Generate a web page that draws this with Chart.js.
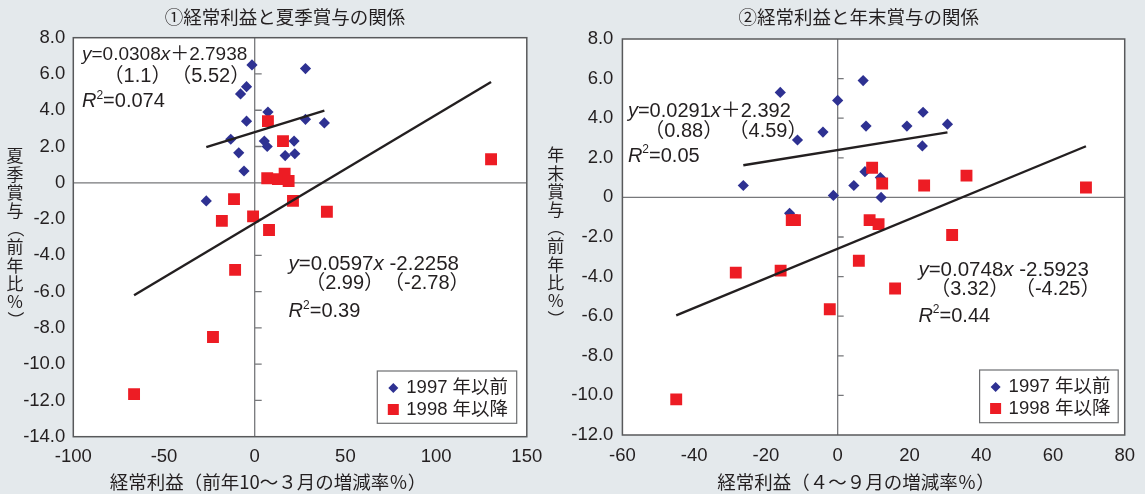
<!DOCTYPE html>
<html lang="ja">
<head>
<meta charset="utf-8">
<title>経常利益と賞与の関係</title>
<script src="https://cdn.jsdelivr.net/npm/chart.js@4.4.1/dist/chart.umd.min.js"></script>
<style>
  html, body { margin: 0; padding: 0; background: #e4e9ec; }
  #wrap { position: relative; width: 1145px; height: 494px; overflow: hidden; background: #e4e9ec; }
  canvas { position: absolute; top: 0; }
  #summer { left: 0; }
  #winter { left: 540px; }
</style>
</head>
<body>
<div id="wrap">
  <canvas id="summer" width="570" height="494"></canvas>
  <canvas id="winter" width="605" height="494"></canvas>
</div>
<script>
// ---- ① 経常利益（前年10～3月）と夏季賞与 ----
const summerPre97X  = [-1.5, 28.0, -4.5, -7.8, 7.3, -4.5, 28.0, 38.4, -13.2, 5.3, 6.9, 21.7, -8.8, 16.8, 22.1, -5.9, -26.7];
const summerPre97Y  = [6.5, 6.3, 5.3, 4.9, 3.9, 3.4, 3.5, 3.3, 2.4, 2.3, 2.0, 2.3, 1.65, 1.5, 1.6, 0.65, -1.0];
const summerPost98X = [7.3, 15.6, 6.9, 12.8, 16.5, 18.7, 21.1, -11.4, 39.8, -18.1, -0.9, 7.9, 130.3, -10.8, -23.0, -66.5];
const summerPost98Y = [3.4, 2.3, 0.25, 0.2, 0.5, 0.1, -1.0, -0.9, -1.6, -2.1, -1.85, -2.6, 1.3, -4.8, -8.5, -11.65];
const summerPre97Fit  = [0.0308, 2.7938];   // slope, intercept
const summerPost98Fit = [0.0597, -2.2258];
const summerPre97T  = [1.1, 5.52];          // t-values
const summerPost98T = [2.99, -2.78];
const summerR2 = [0.074, 0.39];
const summerXTicks = [-100, 150, 50];       // min, max, step
const summerYTicks = [-14, 8, 2];

// ---- ② 経常利益（4～9月）と年末賞与 ----
const winterPre97X  = [7.1, -16.0, 0.0, 23.8, 30.6, 7.9, 19.3, -4.1, -11.2, 23.6, 7.6, 11.9, 4.5, -26.3, -1.2, 12.1, -13.4];
const winterPre97Y  = [5.9, 5.3, 4.9, 4.3, 3.7, 3.6, 3.6, 3.3, 2.9, 2.6, 1.3, 1.0, 0.6, 0.6, 0.1, 0.0, -0.8];
const winterPost98X = [9.6, 12.4, 24.1, 35.9, 69.2, -12.8, -11.9, 8.9, 11.4, 31.9, 5.9, -28.4, -15.9, -2.2, 16.0, -45.0];
const winterPost98Y = [1.5, 0.7, 0.6, 1.1, 0.5, -1.15, -1.15, -1.15, -1.35, -1.9, -3.2, -3.8, -3.7, -5.65, -4.6, -10.2];
const winterPre97Fit  = [0.0291, 2.392];
const winterPost98Fit = [0.0748, -2.5923];
const winterPre97T  = [0.88, 4.59];
const winterPost98T = [3.32, -4.25];
const winterR2 = [0.05, 0.44];
const winterXTicks = [-60, 80, 20];
const winterYTicks = [-12, 8, 2];

const seriesNames = ['1997 年以前', '1998 年以降'];

const BLUE = '#2e3192', RED = '#ed1c24', INK = '#231f20';
const AXIS = '#77787b', FRAME = '#58595b';
const LAT = '"Liberation Sans", Arial, "Noto Sans CJK JP", sans-serif';
const CJK = '"Noto Sans CJK JP", "Noto Sans CJK SC", sans-serif';

const points = (xs, ys) => xs.map((x, i) => ({ x, y: ys[i] }));
function fitLine(xs, fit) {
  const lo = Math.min(...xs), hi = Math.max(...xs);
  return [{ x: lo, y: fit[0] * lo + fit[1] }, { x: hi, y: fit[0] * hi + fit[1] }];
}

// Draws a run of text pieces: [text, style] where style is '', 'i' (italic) or 'sup'.
function rich(ctx, x, y, parts, size, align) {
  const fontOf = s => s === 'i' ? `italic ${size}px ${LAT}` : s === 'sup' ? `${Math.round(size * 0.6)}px ${LAT}` : `${size}px ${LAT}`;
  let total = 0;
  parts.forEach(([t, s]) => { ctx.font = fontOf(s); total += ctx.measureText(t).width; });
  let cx = align === 'center' ? x - total / 2 : x;
  ctx.textAlign = 'left';
  ctx.textBaseline = 'middle';
  parts.forEach(([t, s]) => {
    ctx.font = fontOf(s);
    ctx.fillText(t, cx, s === 'sup' ? y - size * 0.3 : y);
    cx += ctx.measureText(t).width;
  });
}

function equationBlock(ctx, b, fit, t, r2) {
  const sign = fit[1] >= 0 ? '＋' : ' ';
  const fs = b.size || 20;
  rich(ctx, b.left, b.y1, [['y', 'i'], ['=' + fit[0], ''], ['x', 'i'], [sign + fit[1], '']], fs, 'left');
  rich(ctx, b.c1, b.y2, [['（' + t[0] + '）', '']], 20, 'center');
  rich(ctx, b.c2, b.y2, [['（' + t[1] + '）', '']], 20, 'center');
  rich(ctx, b.left, b.y3, [['R', 'i'], ['2', 'sup'], ['=' + r2, '']], 20, 'left');
}

function decorations(o) {
  return {
    id: 'decorations',
    beforeDraw(chart) {
      const { ctx, chartArea: a } = chart;
      ctx.save();
      ctx.fillStyle = '#ffffff';
      ctx.fillRect(a.left, a.top, a.right - a.left, a.bottom - a.top);
      ctx.restore();
    },
    beforeDatasetsDraw(chart) {
      const { ctx, chartArea: a, scales: { x, y } } = chart;
      const x0 = x.getPixelForValue(0), y0 = y.getPixelForValue(0);
      ctx.save();
      ctx.strokeStyle = AXIS;
      ctx.lineWidth = 1.3;
      ctx.beginPath();
      ctx.moveTo(x0, a.top); ctx.lineTo(x0, a.bottom);
      ctx.moveTo(a.left, y0); ctx.lineTo(a.right, y0);
      y.ticks.forEach(tk => {
        if (tk.value === y.min || tk.value === y.max || tk.value === 0) return;
        const py = y.getPixelForValue(tk.value);
        ctx.moveTo(x0, py); ctx.lineTo(x0 + o.tickLen, py);
      });
      ctx.stroke();
      ctx.strokeStyle = FRAME;
      ctx.lineWidth = 1.5;
      ctx.strokeRect(a.left, a.top, a.right - a.left, a.bottom - a.top);
      ctx.restore();
    },
    afterDraw(chart) {
      const { ctx } = chart;
      ctx.save();
      ctx.fillStyle = INK;
      // chart title
      ctx.font = `18.5px ${CJK}`;
      ctx.textAlign = 'center';
      ctx.textBaseline = 'middle';
      ctx.fillText(o.title, o.titlePos[0], o.titlePos[1]);
      // x-axis title
      ctx.font = `18.5px ${CJK}`;
      ctx.fillText(o.xTitle, o.xTitlePos[0], o.xTitlePos[1]);
      // y-axis title, set vertically
      ctx.font = `17px ${CJK}`;
      [...o.yTitle].forEach((ch, i) => {
        const cy = o.yTitlePos[1] + i * 18.2;
        if (ch === '（' || ch === '）') {
          ctx.save();
          ctx.translate(o.yTitlePos[0], cy);
          ctx.rotate(Math.PI / 2);
          ctx.fillText(ch, 0, 0);
          ctx.restore();
        } else {
          ctx.fillText(ch, o.yTitlePos[0], cy);
        }
      });
      // regression equations
      equationBlock(ctx, o.eqPre, o.fitPre, o.tPre, o.r2[0]);
      equationBlock(ctx, o.eqPost, o.fitPost, o.tPost, o.r2[1]);
      // legend
      const [lx, ly, lw, lh] = o.legend;
      ctx.fillStyle = '#ffffff';
      ctx.fillRect(lx, ly, lw, lh);
      ctx.strokeStyle = '#6d6e71';
      ctx.lineWidth = 1.2;
      ctx.strokeRect(lx, ly, lw, lh);
      const r1 = ly + 17, r2 = ly + 38.5, mx = lx + 16;
      ctx.fillStyle = BLUE;
      ctx.beginPath();
      ctx.moveTo(mx, r1 - 5); ctx.lineTo(mx + 5, r1); ctx.lineTo(mx, r1 + 5); ctx.lineTo(mx - 5, r1);
      ctx.closePath(); ctx.fill();
      ctx.fillStyle = RED;
      ctx.fillRect(mx - 5.5, r2 - 5.5, 11, 11);
      ctx.fillStyle = INK;
      ctx.font = `18.5px ${LAT}`;
      ctx.textAlign = 'left';
      ctx.fillText(seriesNames[0], lx + 29, r1);
      ctx.fillText(seriesNames[1], lx + 29, r2);
      ctx.restore();
    }
  };
}

function build(id, o) {
  const tickFont = { family: LAT, size: 18.5 };
  return new Chart(document.getElementById(id), {
    type: 'scatter',
    data: {
      datasets: [
        { label: 'fit-post', data: fitLine(o.postX, o.fitPost), showLine: true, pointRadius: 0,
          borderColor: INK, borderWidth: 2.4, order: 0 },
        { label: 'fit-pre', data: fitLine(o.preX, o.fitPre), showLine: true, pointRadius: 0,
          borderColor: INK, borderWidth: 2.4, order: 0 },
        { label: seriesNames[1], data: points(o.postX, o.postY), pointStyle: 'rect', pointRadius: 8.4,
          backgroundColor: RED, borderWidth: 0, order: 1 },
        { label: seriesNames[0], data: points(o.preX, o.preY), pointStyle: 'rectRot', pointRadius: 5.6,
          backgroundColor: BLUE, borderWidth: 0, order: 2 }
      ]
    },
    options: {
      responsive: false,
      animation: false,
      events: [],
      layout: { padding: o.padding },
      plugins: { legend: { display: false }, tooltip: { enabled: false }, title: { display: false } },
      scales: {
        x: {
          type: 'linear', min: o.xTicks[0], max: o.xTicks[1],
          ticks: { stepSize: o.xTicks[2], font: tickFont, color: INK, padding: o.xPad, maxRotation: 0, autoSkip: false },
          grid: { display: false, drawTicks: false },
          border: { display: false },
          afterFit: s => { s.height = o.xHeight; }
        },
        y: {
          type: 'linear', min: o.yTicks[0], max: o.yTicks[1],
          ticks: { stepSize: o.yTicks[2], font: tickFont, color: INK, padding: o.yPad, autoSkip: false,
                   callback: v => v === 0 ? '0' : v.toFixed(1) },
          grid: { display: false, drawTicks: false },
          border: { display: false },
          afterFit: s => { s.width = o.yWidth; }
        }
      }
    },
    plugins: [decorations(o)]
  });
}

build('summer', {
  preX: summerPre97X, preY: summerPre97Y, postX: summerPost98X, postY: summerPost98Y,
  fitPre: summerPre97Fit, fitPost: summerPost98Fit, tPre: summerPre97T, tPost: summerPost98T, r2: summerR2,
  xTicks: summerXTicks, yTicks: summerYTicks,
  padding: { left: 0, top: 37.7, right: 43.2, bottom: 0 }, yWidth: 73.3, xHeight: 57.3, xPad: 9, yPad: 8,
  tickLen: 7,
  title: '①経常利益と夏季賞与の関係', titlePos: [285, 17],
  xTitle: '経常利益（前年10～３月の増減率％）', xTitlePos: [268, 482],
  yTitle: '夏季賞与（前年比％）', yTitlePos: [15, 156],
  eqPre:  { left: 82, y1: 55, y2: 76, y3: 101.5, c1: 137.5, c2: 210.7, size: 19 },
  eqPost: { left: 288.6, y1: 264, y2: 283.5, y3: 311.5, c1: 344.6, c2: 426.8, size: 20.5 },
  legend: [377.3, 371, 139.4, 52.3]
});

build('winter', {
  preX: winterPre97X, preY: winterPre97Y, postX: winterPost98X, postY: winterPost98Y,
  fitPre: winterPre97Fit, fitPost: winterPost98Fit, tPre: winterPre97T, tPost: winterPost98T, r2: winterR2,
  xTicks: winterXTicks, yTicks: winterYTicks,
  padding: { left: 0, top: 39, right: 15.8, bottom: 0 }, yWidth: 82.4, xHeight: 59, xPad: 10, yPad: 9,
  tickLen: 6,
  title: '②経常利益と年末賞与の関係', titlePos: [318.7, 17],
  xTitle: '経常利益（４～９月の増減率％）', xTitlePos: [316, 482],
  yTitle: '年末賞与（前年比％）', yTitlePos: [15.7, 155],
  eqPre:  { left: 87.9, y1: 111, y2: 131, y3: 156, c1: 143.7, c2: 228, size: 20 },
  eqPost: { left: 378.4, y1: 270.7, y2: 289.3, y3: 316, c1: 429.7, c2: 517.7, size: 20.5 },
  legend: [439.6, 370, 138.6, 52.7]
});
</script>
</body>
</html>
